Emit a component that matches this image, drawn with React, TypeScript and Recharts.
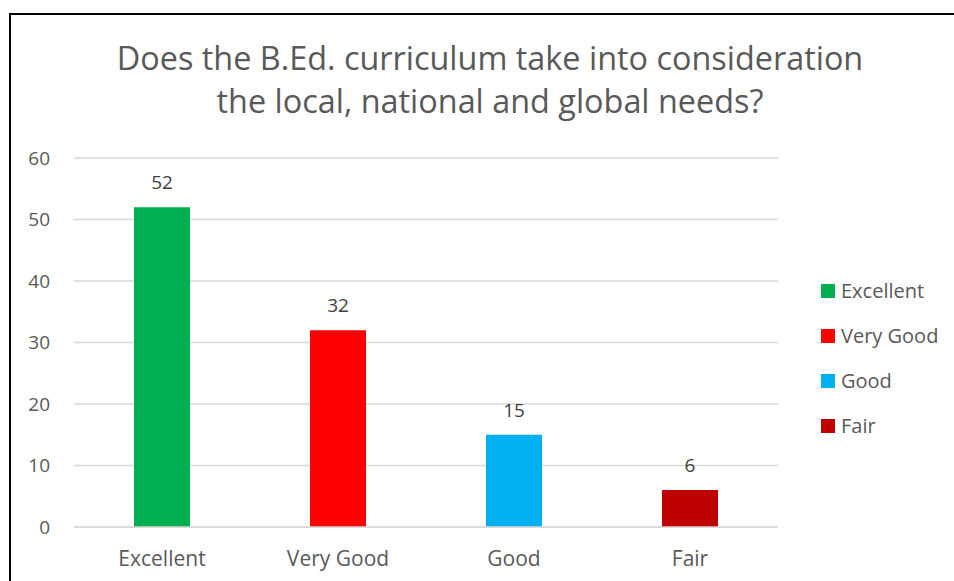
import React from 'react';
import { BarChart, Bar, XAxis, YAxis, CartesianGrid, Cell, LabelList } from 'recharts';

const categories = ['Excellent', 'Very Good', 'Good', 'Fair'];
const responses = [52, 32, 15, 6];
const barColors = ['#00b050', '#ff0000', '#00b0f0', '#c00000'];
const yTicks = [0, 10, 20, 30, 40, 50, 60];

const titleLines = [
  'Does the B.Ed. curriculum take into consideration',
  'the local, national and global needs?',
];

const data = categories.map((name, i) => ({ name, value: responses[i] }));

const FONT = '"Open Sans", sans-serif';
const TEXT = '#595959';

// legend is built from the category list since each bar has its own colour
function CategoryLegend() {
  return (
    <div style={{ position: 'absolute', left: 821, top: 268, fontFamily: FONT, fontSize: 20, color: TEXT }}>
      {categories.map((c, i) => (
        <div key={c} style={{ display: 'flex', alignItems: 'center', height: 45 }}>
          <span style={{ width: 14, height: 14, background: barColors[i], marginRight: 6, display: 'inline-block' }} />
          {c}
        </div>
      ))}
    </div>
  );
}

export default function App() {
  return (
    <div style={{ position: 'absolute', left: 0, top: 0, width: 954, height: 581, background: '#fff', overflow: 'hidden' }}>
      <div style={{
        position: 'absolute', left: 9, top: 13, width: 960, height: 600,
        borderTop: '2px solid #000', borderLeft: '2px solid #000',
      }} />
      <svg style={{ position: 'absolute', left: 0, top: 0 }} width={954} height={130}>
        {titleLines.map((t, i) => (
          <text key={i} x={490} y={70 + i * 43} textAnchor="middle" fontFamily={FONT} fontSize={32.4} fill={TEXT}>{t}</text>
        ))}
      </svg>
      <div style={{ position: 'absolute', left: 0, top: 0 }}>
        <BarChart width={954} height={581} data={data} margin={{ top: 158, right: 176, bottom: 24, left: 0 }}>
          <CartesianGrid vertical={false} stroke="#d9d9d9" strokeWidth={1.5} />
          <XAxis
            dataKey="name"
            height={30}
            axisLine={{ stroke: '#d9d9d9', strokeWidth: 1.5 }}
            tickLine={false}
            tick={{ fill: TEXT, fontSize: 21, fontFamily: FONT }}
            tickMargin={18}
          />
          <YAxis
            width={74}
            domain={[0, 60]}
            ticks={yTicks}
            axisLine={false}
            tickLine={false}
            tickSize={0}
            tickMargin={24}
            tick={{ fill: TEXT, fontSize: 19, fontFamily: FONT }}
          />
          <Bar dataKey="value" barSize={56} isAnimationActive={false}>
            {data.map((d, i) => <Cell key={d.name} fill={barColors[i]} />)}
            <LabelList dataKey="value" position="top" offset={18} fill="#404040" fontSize={19} fontFamily={FONT} />
          </Bar>
        </BarChart>
      </div>
      <CategoryLegend />
    </div>
  );
}
